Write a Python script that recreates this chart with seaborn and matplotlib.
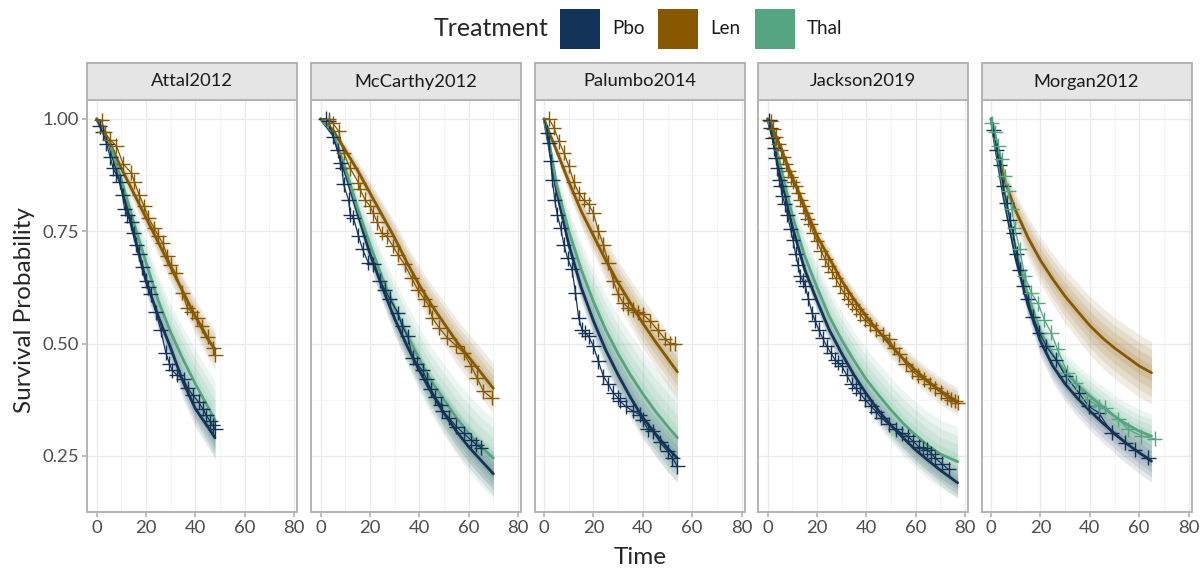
import numpy as np
import pandas as pd
import matplotlib
matplotlib.use("Agg")
import matplotlib.pyplot as plt
import seaborn as sns
from matplotlib.patches import Rectangle

# ---------------- data ----------------
studies = ["Attal2012", "McCarthy2012", "Palumbo2014", "Jackson2019", "Morgan2012"]
treatments = ["Pbo", "Len", "Thal"]
colors = {"Pbo": "#133459", "Len": "#875800", "Thal": "#55a580"}

# fitted curves: (time, median survival, outer band half-width)
attal_pbo_fit = [(0,1.0,0),(5,0.945,.010),(10,0.85,.018),(15,0.745,.024),(20,0.64,.028),(25,0.56,.032),
                 (30,0.49,.035),(35,0.415,.038),(40,0.355,.041),(45,0.315,.044),(48,0.29,.046)]
attal_thal_fit = [(0,1.0,0),(5,0.95,.012),(10,0.865,.025),(15,0.77,.035),(20,0.68,.045),(25,0.595,.055),
                  (30,0.525,.062),(35,0.465,.070),(40,0.41,.076),(45,0.36,.082),(48,0.33,.085)]
attal_len_fit = [(0,1.0,0),(5,0.95,.010),(10,0.89,.016),(15,0.835,.022),(20,0.78,.026),(25,0.725,.030),
                 (30,0.67,.033),(35,0.615,.036),(40,0.56,.039),(45,0.51,.042),(48,0.487,.044)]

mccarthy_pbo_fit = [(0,1.0,0),(5,0.965,.008),(10,0.88,.016),(15,0.79,.022),(20,0.70,.027),(25,0.625,.031),
                    (30,0.555,.034),(35,0.495,.037),(40,0.44,.039),(45,0.39,.041),(50,0.345,.043),
                    (55,0.305,.045),(60,0.27,.046),(65,0.24,.047),(70,0.21,.048)]
mccarthy_thal_fit = [(0,1.0,0),(5,0.97,.012),(10,0.89,.024),(15,0.80,.035),(20,0.72,.045),(25,0.645,.053),
                     (30,0.58,.060),(35,0.52,.066),(40,0.465,.071),(45,0.415,.075),(50,0.375,.079),
                     (55,0.335,.082),(60,0.30,.085),(65,0.27,.087),(70,0.245,.090)]
mccarthy_len_fit = [(0,1.0,0),(5,0.975,.008),(10,0.93,.015),(15,0.885,.021),(20,0.835,.026),(25,0.785,.031),
                    (30,0.735,.035),(35,0.68,.039),(40,0.63,.042),(45,0.585,.045),(50,0.545,.048),
                    (55,0.505,.050),(60,0.47,.052),(65,0.435,.054),(70,0.40,.056)]

palumbo_pbo_fit = [(0,1.0,0),(2,0.94,.008),(5,0.84,.015),(10,0.72,.025),(15,0.625,.032),(20,0.55,.037),
                   (25,0.485,.041),(30,0.43,.044),(35,0.38,.046),(40,0.335,.048),(45,0.30,.050),
                   (50,0.267,.052),(54,0.245,.053)]
palumbo_thal_fit = [(0,1.0,0),(2,0.95,.012),(5,0.855,.025),(10,0.75,.045),(15,0.665,.060),(20,0.593,.070),
                    (25,0.53,.078),(30,0.477,.085),(35,0.43,.090),(40,0.388,.094),(45,0.35,.097),
                    (50,0.316,.100),(54,0.29,.100)]
palumbo_len_fit = [(0,1.0,0),(2,0.97,.008),(5,0.93,.016),(10,0.86,.026),(15,0.795,.034),(20,0.74,.040),
                   (25,0.685,.045),(30,0.635,.049),(35,0.59,.052),(40,0.545,.055),(45,0.505,.058),
                   (50,0.467,.060),(54,0.437,.062)]

jackson_pbo_fit = [(0,1.0,0),(2,0.96,.005),(5,0.88,.010),(10,0.76,.016),(15,0.665,.020),(20,0.595,.022),
                   (25,0.53,.024),(30,0.478,.026),(35,0.43,.027),(40,0.388,.028),(45,0.35,.029),
                   (50,0.318,.030),(55,0.29,.031),(60,0.263,.032),(65,0.24,.033),(70,0.218,.034),(77,0.19,.035)]
jackson_thal_fit = [(0,1.0,0),(2,0.97,.010),(5,0.90,.020),(10,0.785,.035),(15,0.695,.045),(20,0.625,.052),
                    (25,0.56,.058),(30,0.508,.062),(35,0.462,.065),(40,0.42,.068),(45,0.385,.070),
                    (50,0.352,.072),(55,0.322,.073),(60,0.296,.074),(65,0.273,.075),(70,0.254,.076),(77,0.237,.077)]
jackson_len_fit = [(0,1.0,0),(2,0.98,.005),(5,0.94,.009),(10,0.87,.014),(15,0.805,.017),(20,0.74,.019),
                   (25,0.69,.021),(30,0.64,.022),(35,0.598,.023),(40,0.56,.024),(45,0.527,.025),
                   (50,0.495,.026),(55,0.466,.027),(60,0.44,.028),(65,0.416,.029),(70,0.395,.030),(77,0.37,.031)]

morgan_pbo_fit = [(0,1.0,0),(2,0.93,.008),(5,0.83,.015),(10,0.69,.024),(15,0.585,.030),(20,0.505,.034),
                  (25,0.45,.037),(30,0.41,.039),(35,0.378,.041),(40,0.35,.042),(45,0.324,.043),
                  (50,0.30,.044),(55,0.277,.045),(60,0.257,.046),(65,0.238,.047)]
morgan_thal_fit = [(0,1.0,0),(2,0.94,.008),(5,0.845,.016),(10,0.71,.026),(15,0.605,.032),(20,0.525,.036),
                   (25,0.475,.039),(30,0.438,.041),(35,0.408,.043),(40,0.383,.045),(45,0.36,.046),
                   (50,0.338,.047),(55,0.32,.048),(60,0.305,.049),(65,0.294,.050)]
morgan_len_fit = [(0,1.0,0),(2,0.95,.012),(5,0.87,.025),(10,0.795,.038),(15,0.735,.046),(20,0.685,.052),
                  (25,0.643,.056),(30,0.605,.060),(35,0.572,.063),(40,0.54,.065),(45,0.513,.067),
                  (50,0.49,.068),(55,0.47,.069),(60,0.45,.070),(65,0.435,.070)]

# Kaplan-Meier estimates: (time, survival); censoring marks at every point after 0
attal_pbo_km = [(0,1),(1.3,0.984),(2.5,0.97),(4,0.945),(5.5,0.915),(6.7,0.89),(8,0.875),(9.3,0.86),
                (10.5,0.83),(11.3,0.80),(12.5,0.785),(14,0.77),(15,0.745),(16,0.72),(17.3,0.70),
                (18.5,0.67),(20,0.64),(21,0.625),(22,0.61),(24,0.57),(26,0.53),(28,0.48),(29.5,0.455),
                (30.7,0.44),(32.5,0.43),(35.3,0.42),(37,0.40),(39,0.385),(41.3,0.37),(43,0.355),
                (44.5,0.34),(46,0.327),(47,0.318),(48,0.31)]
attal_len_km = [(0,1),(2,0.997),(3.3,0.97),(5.3,0.954),(8,0.94),(10.7,0.90),(14,0.88),(15.3,0.86),
                (17.3,0.83),(19.3,0.805),(21,0.78),(23.3,0.757),(25,0.74),(26.7,0.724),(28.7,0.694),
                (30,0.675),(32,0.657),(34.7,0.613),(36.7,0.58),(38.5,0.57),(40.7,0.557),(42.7,0.539),
                (45,0.515),(47.3,0.49),(48,0.475)]

mccarthy_pbo_km = [(0,1),(2,1.0),(3.3,0.995),(5,0.96),(7,0.93),(8,0.902),(8.7,0.89),(9.3,0.854),
                   (11.3,0.82),(12,0.787),(13.3,0.78),(15.3,0.74),(17,0.71),(19.3,0.68),(21.3,0.676),
                   (24,0.64),(26,0.62),(28,0.60),(31.3,0.568),(33,0.54),(35.3,0.516),(37.3,0.468),
                   (39,0.455),(41.3,0.44),(43,0.42),(44.7,0.398),(46.5,0.38),(48.7,0.364),(49.3,0.35),
                   (52,0.335),(55,0.315),(58,0.30),(61,0.285),(63,0.275),(65,0.268)]
mccarthy_len_km = [(0,1),(3.3,0.999),(5,0.99),(7.3,0.973),(9.3,0.924),(12,0.89),(15.3,0.858),(16,0.843),
                   (18,0.82),(20,0.806),(21.3,0.79),(23,0.77),(24.7,0.746),(26.7,0.739),(29.3,0.717),
                   (31.3,0.698),(34,0.676),(37,0.645),(39.3,0.62),(42,0.60),(44,0.583),(45.3,0.557),
                   (48,0.535),(51.3,0.513),(55,0.495),(58,0.479),(61,0.45),(63.3,0.424),(66,0.394),
                   (69.3,0.379)]

palumbo_pbo_km = [(0,1),(1.3,0.969),(2,0.947),(2.7,0.906),(3.3,0.865),(4.3,0.82),(5.3,0.787),(6.7,0.757),
                  (8,0.72),(9.5,0.69),(11.3,0.665),(12.7,0.613),(14,0.557),(15.3,0.531),(16.7,0.524),
                  (18,0.516),(20,0.494),(22,0.46),(24,0.427),(26,0.41),(28,0.39),(30,0.379),(30.7,0.372),
                  (33,0.36),(36,0.35),(38.7,0.342),(40,0.33),(42,0.309),(44,0.305),(47,0.28),(50,0.26),
                  (52,0.245),(54,0.227)]
palumbo_len_km = [(0,1),(2,1.0),(4,0.98),(6,0.95),(8,0.925),(10,0.895),(12,0.86),(14,0.835),(16,0.82),
                  (18,0.81),(20,0.79),(22,0.75),(24,0.72),(26,0.68),(28,0.64),(30,0.61),(32,0.59),
                  (34,0.58),(36,0.575),(38,0.57),(40,0.565),(43,0.55),(46,0.53),(49,0.51),(51,0.50),
                  (53,0.50)]

jackson_pbo_km = [(0,1),(0.7,0.997),(1.3,0.98),(2,0.958),(2.7,0.935),(3.3,0.913),(4,0.89),(4.7,0.865),
                  (5.3,0.85),(6,0.828),(7,0.81),(8,0.787),(9.3,0.754),(10.3,0.73),(11.3,0.70),
                  (12.3,0.675),(13.3,0.65),(14.3,0.64),(15.3,0.628),(16.5,0.60),(18,0.568),(19.3,0.55),
                  (20.7,0.531),(22.3,0.512),(24,0.494),(25.5,0.48),(27.3,0.464),(28.7,0.457),(30,0.45),
                  (32,0.43),(34,0.41),(35.7,0.40),(37.3,0.39),(39.5,0.375),(42,0.36),(44,0.348),
                  (46,0.335),(49,0.32),(52,0.309),(54.5,0.30),(56.7,0.294),(59,0.282),(61.3,0.27),
                  (63,0.267),(64.7,0.264),(66.3,0.255),(68,0.245),(70.7,0.232),(73.3,0.22)]
jackson_len_km = [(0,1),(1.3,0.995),(2.3,0.978),(3.3,0.96),(4.3,0.945),(5.3,0.93),(6.3,0.915),(7.3,0.90),
                  (8.3,0.885),(9.3,0.87),(10.3,0.86),(11.3,0.85),(12.3,0.835),(13.3,0.82),(14.3,0.805),
                  (15.3,0.79),(16.3,0.777),(17.3,0.765),(18.6,0.745),(20,0.728),(21.6,0.707),(23.3,0.687),
                  (24.6,0.673),(26,0.66),(27.6,0.645),(29.3,0.628),(31,0.612),(32.7,0.598),(34.3,0.587),
                  (36,0.576),(37.6,0.565),(39.3,0.553),(41.6,0.542),(44,0.531),(46.6,0.52),(49.3,0.509),
                  (51.3,0.49),(53.3,0.476),(56,0.455),(58.7,0.438),(61,0.428),(63.3,0.42),(65.6,0.41),
                  (68,0.40),(70.3,0.39),(72.7,0.379),(74.3,0.375),(76,0.372),(77,0.368)]

morgan_pbo_km = [(0,1),(0.9,0.976),(2.3,0.93),(3.6,0.898),(4.9,0.85),(6.3,0.813),(7.6,0.776),(8.9,0.746),
                 (10.3,0.70),(11.6,0.664),(12.9,0.627),(14.9,0.598),(16.9,0.56),(19.6,0.524),(22.3,0.494),
                 (26.3,0.464),(30.3,0.427),(35.6,0.39),(39.6,0.36),(43.6,0.346),(48.9,0.301),(54.3,0.279),
                 (58.3,0.264),(63.6,0.246)]
morgan_thal_km = [(0,1),(0.3,0.99),(1.6,0.97),(2.9,0.94),(4.3,0.91),(5.6,0.872),(6.9,0.84),(8.3,0.80),
                  (9.6,0.757),(11.6,0.71),(13.6,0.65),(16.3,0.613),(18.9,0.59),(21.6,0.553),(24.3,0.524),
                  (26.9,0.487),(30.9,0.435),(34.3,0.413),(38.9,0.376),(43.6,0.36),(46.3,0.357),
                  (51.6,0.331),(55.6,0.309),(60.9,0.294),(66.3,0.288)]

x_ticks = [0, 20, 40, 60, 80]
y_ticks = [0.25, 0.50, 0.75, 1.00]
y_tick_labels = ["0.25", "0.50", "0.75", "1.00"]

fits = {
    "Attal2012": {"Pbo": attal_pbo_fit, "Len": attal_len_fit, "Thal": attal_thal_fit},
    "McCarthy2012": {"Pbo": mccarthy_pbo_fit, "Len": mccarthy_len_fit, "Thal": mccarthy_thal_fit},
    "Palumbo2014": {"Pbo": palumbo_pbo_fit, "Len": palumbo_len_fit, "Thal": palumbo_thal_fit},
    "Jackson2019": {"Pbo": jackson_pbo_fit, "Len": jackson_len_fit, "Thal": jackson_thal_fit},
    "Morgan2012": {"Pbo": morgan_pbo_fit, "Len": morgan_len_fit, "Thal": morgan_thal_fit},
}
kms = {
    "Attal2012": {"Pbo": attal_pbo_km, "Len": attal_len_km},
    "McCarthy2012": {"Pbo": mccarthy_pbo_km, "Len": mccarthy_len_km},
    "Palumbo2014": {"Pbo": palumbo_pbo_km, "Len": palumbo_len_km},
    "Jackson2019": {"Pbo": jackson_pbo_km, "Len": jackson_len_km},
    "Morgan2012": {"Pbo": morgan_pbo_km, "Thal": morgan_thal_km},
}

fit_rows = []
for st, d in fits.items():
    for tr, pts in d.items():
        for t, m, h in pts:
            fit_rows.append((st, tr, t, m, h))
fit_df = pd.DataFrame(fit_rows, columns=["Study", "Treatment", "Time", "Surv", "HW"])
km_rows = []
for st, d in kms.items():
    for tr, pts in d.items():
        for t, s in pts:
            km_rows.append((st, tr, t, s))
km_df = pd.DataFrame(km_rows, columns=["Study", "Treatment", "Time", "Surv"])

# ---------------- style ----------------
sns.set_theme(style="white")
plt.rcParams["font.family"] = ["Lato", "DejaVu Sans"]

W, H = 1203, 570
fig = plt.figure(figsize=(W / 100, H / 100), dpi=100)
lefts = [87, 311, 534.5, 758, 981.5]
pw = 210
top, bottom, strip_top = 100, 512, 63
band_levels = [1.0, 0.75, 0.5, 0.25]
border = "#b3b3b3"

for i, st in enumerate(studies):
    ax = fig.add_axes([lefts[i] / W, (H - bottom) / H, pw / W, (bottom - top) / H])
    sax = fig.add_axes([lefts[i] / W, (H - top) / H, pw / W, (top - strip_top) / H])

    fd = fit_df[fit_df.Study == st]
    kd = km_df[km_df.Study == st]

    # bands
    for tr in ["Pbo", "Thal", "Len"]:
        sub = fd[fd.Treatment == tr]
        for lv in band_levels:
            ax.fill_between(sub.Time, sub.Surv - lv * sub.HW, sub.Surv + lv * sub.HW,
                            color=colors[tr], alpha=0.11, linewidth=0, zorder=2)
    # fitted curves
    sns.lineplot(data=fd, x="Time", y="Surv", hue="Treatment", palette=colors,
                 estimator=None, sort=False, linewidth=2.0, legend=False, ax=ax, zorder=4)
    # KM estimates
    sns.lineplot(data=kd, x="Time", y="Surv", hue="Treatment", palette=colors,
                 estimator=None, sort=False, linewidth=0.9, legend=False, ax=ax, zorder=5)
    # censoring marks
    cd = kd[kd.Time > 0]
    sns.scatterplot(data=cd, x="Time", y="Surv", hue="Treatment", palette=colors,
                    marker="+", s=115, linewidth=1.0, legend=False, ax=ax, zorder=6)

    ax.set_xlim(-3.9, 81.2)
    ax.set_ylim(0.125, 1.042)
    ax.set_xticks(x_ticks)
    ax.set_xticks([10, 30, 50, 70], minor=True)
    ax.set_yticks(y_ticks)
    ax.set_yticks([0.375, 0.625, 0.875], minor=True)
    ax.set_xticklabels([str(v) for v in x_ticks])
    ax.grid(True, which="major", color="#ebebeb", linewidth=1.0)
    ax.grid(True, which="minor", color="#f4f4f4", linewidth=0.6)
    ax.set_axisbelow(True)
    ax.set_xlabel("")
    ax.set_ylabel("")
    ax.set_facecolor("white")
    for sp in ax.spines.values():
        sp.set_color(border)
        sp.set_linewidth(1.4)
    ax.tick_params(axis="x", which="major", length=3.5, color=border, labelsize=13.3,
                   labelcolor="#4d4d4d", pad=2, bottom=True)
    ax.tick_params(which="minor", length=0)
    if i == 0:
        ax.set_yticklabels(y_tick_labels)
        ax.tick_params(axis="y", which="major", length=3.5, color=border, labelsize=13.3,
                       labelcolor="#4d4d4d", pad=2, left=True)
    else:
        ax.tick_params(axis="y", which="major", length=0, labelleft=False)

    sax.set_facecolor("#e5e5e5")
    sax.set_xticks([])
    sax.set_yticks([])
    for sp in sax.spines.values():
        sp.set_color(border)
        sp.set_linewidth(1.4)
    sax.text(0.5, 0.5, st, ha="center", va="center", fontsize=13.2, color="#1a1a1a",
             transform=sax.transAxes)

# axis titles
fig.text(640 / W, 1 - 558 / H, "Time", ha="center", va="center", fontsize=17.5)
fig.text(25 / W, 1 - 310 / H, "Survival Probability", ha="center", va="center",
         rotation=90, fontsize=17.5)

# legend
fig.text(491 / W, 1 - 29 / H, "Treatment", ha="center", va="center", fontsize=18)
key_x = [560, 658, 755]
for kx, tr in zip(key_x, treatments):
    fig.patches.append(Rectangle((kx / W, 1 - 49 / H), 40 / W, 40 / H, transform=fig.transFigure,
                                 facecolor=colors[tr], edgecolor="none"))
    fig.text((kx + 52) / W, 1 - 29 / H, tr, ha="left", va="center", fontsize=13.5, color="#1a1a1a")

fig.savefig("out.png", dpi=100)
